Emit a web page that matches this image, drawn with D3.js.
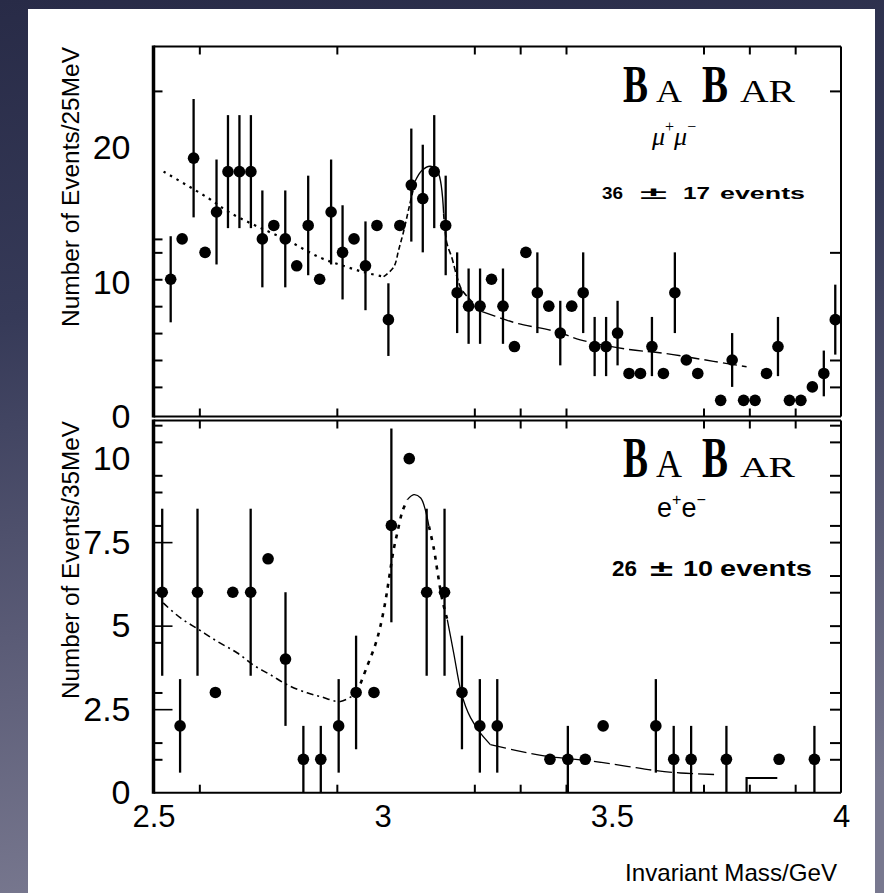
<!DOCTYPE html>
<html>
<head>
<meta charset="utf-8">
<script src="https://cdn.jsdelivr.net/npm/d3@7/dist/d3.min.js"></script>
<style>
  html, body { margin: 0; padding: 0; background: #2a2d48; }
  svg { display: block; }
</style>
</head>
<body>
<svg id="chart" width="884" height="893"></svg>
<script>
// ---- μ+μ− channel, 25 MeV bins ----
const massMuMu = [2.5375, 2.5625, 2.5875, 2.6125, 2.6375, 2.6625, 2.6875, 2.7125, 2.7375, 2.7625,
  2.7875, 2.8125, 2.8375, 2.8625, 2.8875, 2.9125, 2.9375, 2.9625, 2.9875, 3.0125,
  3.0375, 3.0625, 3.0875, 3.1125, 3.1375, 3.1625, 3.1875, 3.2125, 3.2375, 3.2625,
  3.2875, 3.3125, 3.3375, 3.3625, 3.3875, 3.4125, 3.4375, 3.4625, 3.4875, 3.5125,
  3.5375, 3.5625, 3.5875, 3.6125, 3.6375, 3.6625, 3.6875, 3.7375, 3.7625, 3.7875,
  3.8125, 3.8375, 3.8625, 3.8875, 3.9125, 3.9375, 3.9625, 3.9875];
const countsMuMu = [10, 13, 19, 12, 15, 18, 18, 18, 13, 14,
  13, 11, 14, 10, 15, 12, 13, 11, 14, 7,
  14, 17, 16, 18, 14, 9, 8, 8, 10, 8,
  5, 12, 9, 8, 6, 8, 9, 5, 5, 6,
  3, 3, 5, 3, 9, 4, 3, 1, 4, 1,
  1, 3, 5, 1, 1, 2, 3, 7];
const errMuMu = [3.2, 0, 4.4, 0, 3.9, 4.2, 4.2, 4.2, 3.6, 0,
  3.6, 0, 3.7, 0, 3.9, 3.5, 0, 3.3, 0, 2.7,
  0, 4.2, 4.0, 4.2, 3.7, 3.0, 2.8, 2.8, 0, 2.8,
  0, 0, 3.0, 0, 2.4, 0, 3.0, 2.2, 2.2, 2.4,
  0, 0, 2.2, 0, 3.0, 0, 0, 0, 2.0, 0,
  0, 0, 2.2, 0, 0, 0, 1.7, 2.6];
const fitMuMuMass = [2.522, 2.621, 2.664, 2.722, 2.792, 2.864, 2.914, 2.962, 3.002, 3.024,
  3.035, 3.046, 3.058, 3.071, 3.086, 3.104, 3.120, 3.133, 3.140, 3.151,
  3.162, 3.173, 3.217, 3.267, 3.296, 3.380, 3.431, 3.533, 3.613, 3.722, 3.794];
const fitMuMuValue = [18.0, 16.0, 15.0, 14.0, 12.9, 11.6, 11.0, 10.5, 10.2, 10.9,
  12.2, 13.6, 15.4, 17.3, 18.1, 18.4, 18.0, 14.9, 12.7, 11.6,
  10.2, 9.2, 7.6, 7.0, 6.7, 6.1, 5.5, 4.8, 4.5, 3.9, 3.5];

// ---- e+e− channel, 1.5 GeV / 39 bins ----
const massEE = [2.519, 2.558, 2.596, 2.635, 2.673, 2.712, 2.750, 2.788, 2.827, 2.865,
  2.904, 2.942, 2.981, 3.019, 3.058, 3.096, 3.135, 3.173, 3.212, 3.250,
  3.365, 3.404, 3.442, 3.481, 3.596, 3.635, 3.673, 3.750, 3.865, 3.942];
const countsEE = [6, 2, 6, 3, 6, 6, 7, 4, 1, 1,
  2, 3, 3, 8, 10, 6, 6, 3, 2, 2,
  1, 1, 1, 2, 2, 1, 1, 1, 1, 1];
const errEE = [2.5, 1.4, 2.5, 0, 0, 2.5, 0, 2.0, 1.0, 1.0,
  1.4, 1.7, 0, 2.9, 0, 2.5, 2.5, 1.7, 1.4, 1.4,
  0, 1.0, 0, 0, 1.4, 1.0, 1.0, 1.0, 0, 1.0];
const fitEEMass = [2.521, 2.559, 2.599, 2.639, 2.683, 2.719, 2.755, 2.792, 2.835, 2.864,
  2.908, 2.944, 2.966, 2.984, 2.995, 3.006, 3.013, 3.024, 3.032, 3.043,
  3.054, 3.068, 3.083, 3.093, 3.101, 3.112, 3.120, 3.130, 3.141, 3.155,
  3.170, 3.181, 3.192, 3.213, 3.235, 3.290, 3.359, 3.461, 3.533, 3.591, 3.650, 3.733];
const fitEEValue = [5.68, 5.23, 4.88, 4.53, 4.18, 3.81, 3.53, 3.23, 2.99, 2.88,
  2.73, 2.99, 3.78, 4.43, 4.98, 5.73, 6.33, 7.28, 7.78, 8.42,
  8.77, 8.92, 8.82, 8.47, 7.97, 7.28, 6.58, 5.78, 5.18, 4.18,
  3.08, 2.58, 2.24, 1.79, 1.44, 1.27, 1.09, 0.94, 0.79, 0.67, 0.59, 0.54];
const stepEEMass = [3.794, 3.794, 3.861];
const stepEEValue = [0, 0.44, 0.44];

// ---- axes ----
const xTickValues = [2.6, 2.9, 3.2, 3.3, 3.4, 3.7, 3.8, 3.9];
const xLabelValues = [2.5, 3, 3.5, 4];
const xLabelText = ["2.5", "3", "3.5", "4"];
const yTicksMuMuLeft = [2, 4, 6, 8, 10, 12, 13, 24];
const yTicksMuMuRight = [2, 4, 12, 24];
const yLabelsMuMu = [0, 10, 20];
const yTicksEELeft = [1, 1.5, 3, 4.5, 6, 8, 9, 9.5, 10.5, 11];
const yTicksEELeftLong = [2.5, 5, 7.5];
const yTicksEERight = [1, 1.5, 2.5, 3, 4.5, 5, 6, 6.5, 7.5, 8, 9, 9.5, 10.5, 11];
const yLabelsEE = [0, 2.5, 5, 7.5, 10];
const yLabelsEEText = ["0", "2.5", "5", "7.5", "10"];

const svg = d3.select("#chart");

// backdrop gradient and white sheet
const defs = svg.append("defs");
const grad = defs.append("linearGradient").attr("id", "bg")
  .attr("x1", 0).attr("y1", 0).attr("x2", 0.15).attr("y2", 1);
[[0, "#282b47"], [0.35, "#363a58"], [0.7, "#5a5b76"], [1, "#78788f"]].forEach(([o, c]) =>
  grad.append("stop").attr("offset", o).attr("stop-color", c));
svg.append("rect").attr("width", 884).attr("height", 893).attr("fill", "url(#bg)");
svg.append("rect").attr("x", 28).attr("y", 9).attr("width", 847).attr("height", 884).attr("fill", "#ffffff");

const X0 = 153.5, X1 = 841;
const x = d3.scaleLinear().domain([2.5, 4.0]).range([X0, X1]);

const panelMu = { y0: 46.5, y1: 416.5 };
const panelEE = { y0: 420.5, y1: 792.7 };
const yMu = d3.scaleLinear().domain([-0.2, 27.3]).range([panelMu.y1, panelMu.y0]);
const yEE = d3.scaleLinear().domain([0, 11.14]).range([panelEE.y1, panelEE.y0]);

function frame(p) {
  const g = svg.append("g").attr("stroke", "#000").attr("fill", "none");
  g.append("line").attr("x1", X0).attr("x2", X1).attr("y1", p.y0).attr("y2", p.y0).attr("stroke-width", 2);
  g.append("line").attr("x1", X0).attr("x2", X1).attr("y1", p.y1).attr("y2", p.y1).attr("stroke-width", 2);
  g.append("line").attr("x1", X1).attr("x2", X1).attr("y1", p.y0).attr("y2", p.y1).attr("stroke-width", 2);
  g.append("line").attr("x1", X0).attr("x2", X0).attr("y1", p.y0 - 1).attr("y2", p.y1 + 1).attr("stroke-width", 3.5);
}

function tickAxis(axis, tx, ty, width) {
  const g = svg.append("g").attr("transform", `translate(${tx},${ty})`).call(axis);
  g.select(".domain").remove();
  g.selectAll(".tick line").attr("stroke", "#000").attr("stroke-width", width || 2);
  return g;
}

function panelTicks(p, yScale, leftTicks, rightTicks) {
  tickAxis(d3.axisBottom(x).tickValues(xTickValues).tickSize(-8).tickFormat(""), 0, p.y1);
  tickAxis(d3.axisTop(x).tickValues(xTickValues).tickSize(-8).tickFormat(""), 0, p.y0);
  tickAxis(d3.axisLeft(yScale).tickValues(leftTicks).tickSize(-9).tickFormat(""), X0, 0);
  tickAxis(d3.axisRight(yScale).tickValues(rightTicks).tickSize(-11).tickFormat(""), X1, 0);
}

frame(panelMu);
frame(panelEE);
panelTicks(panelMu, yMu, yTicksMuMuLeft, yTicksMuMuRight);
panelTicks(panelEE, yEE, yTicksEELeft, yTicksEERight);
tickAxis(d3.axisLeft(yEE).tickValues(yTicksEELeftLong).tickSize(-19).tickFormat(""), X0, 0, 1.6);

// tick labels
const numFont = "'Liberation Sans', Arial, sans-serif";
function styleLabels(g, size) {
  g.selectAll("text").attr("font-family", numFont).attr("font-size", size).attr("fill", "#000");
}
styleLabels(tickAxis(d3.axisLeft(yMu).tickValues(yLabelsMuMu).tickSize(0).tickPadding(23).tickFormat(d3.format("d")), X0, 3), 34);
styleLabels(tickAxis(d3.axisLeft(yEE).tickValues(yLabelsEE).tickSize(0).tickPadding(23)
  .tickFormat((d, i) => yLabelsEEText[i]), X0, 0), 34);
styleLabels(tickAxis(d3.axisBottom(x).tickValues(xLabelValues).tickSize(0).tickPadding(12)
  .tickFormat((d, i) => xLabelText[i]), 0, panelEE.y1), 31);

// axis titles
svg.append("text").attr("transform", "translate(71,187) rotate(-90)")
  .attr("text-anchor", "middle").attr("dominant-baseline", "central")
  .attr("font-family", numFont).attr("font-size", 23)
  .attr("textLength", 280).attr("lengthAdjust", "spacingAndGlyphs")
  .text("Number of Events/25MeV");
svg.append("text").attr("transform", "translate(71,560) rotate(-90)")
  .attr("text-anchor", "middle").attr("dominant-baseline", "central")
  .attr("font-family", numFont).attr("font-size", 23)
  .attr("textLength", 278).attr("lengthAdjust", "spacingAndGlyphs")
  .text("Number of Events/35MeV");
svg.append("text").attr("x", 625).attr("y", 881)
  .attr("font-family", numFont).attr("font-size", 24)
  .attr("textLength", 212).attr("lengthAdjust", "spacingAndGlyphs")
  .text("Invariant Mass/GeV");

// fit curves, drawn piecewise in the styles of the original figure
function drawFit(massArr, valArr, yScale, pieces) {
  const line = d3.line().x(d => x(d[0])).y(d => yScale(d[1])).curve(d3.curveCatmullRom.alpha(0.5));
  const pts = massArr.map((m, i) => [m, valArr[i]]);
  pieces.forEach(pc => {
    const seg = pts.filter(d => d[0] >= pc.lo - 1e-9 && d[0] <= pc.hi + 1e-9);
    svg.append("path").attr("d", line(seg)).attr("fill", "none").attr("stroke", "#000")
      .attr("stroke-width", pc.w).attr("stroke-dasharray", pc.dash || null);
  });
}
drawFit(fitMuMuMass, fitMuMuValue, yMu, [
  { lo: 2.5, hi: 3.002, w: 2.2, dash: "2.5,5" },
  { lo: 3.002, hi: 3.071, w: 1.6, dash: "5,3" },
  { lo: 3.071, hi: 3.133, w: 1.4 },
  { lo: 3.133, hi: 3.217, w: 1.6, dash: "6,3" },
  { lo: 3.217, hi: 3.8, w: 1.4, dash: "14,5" }
]);
drawFit(fitEEMass, fitEEValue, yEE, [
  { lo: 2.5, hi: 2.944, w: 1.6, dash: "7,4,2,4" },
  { lo: 2.944, hi: 3.054, w: 2.6, dash: "4,6" },
  { lo: 3.054, hi: 3.101, w: 1.3 },
  { lo: 3.101, hi: 3.141, w: 2.6, dash: "4,6" },
  { lo: 3.141, hi: 3.235, w: 1.3 },
  { lo: 3.235, hi: 3.74, w: 1.3, dash: "16,5" }
]);
svg.append("path")
  .attr("d", d3.line().x((d, i) => x(stepEEMass[i])).y((d, i) => yEE(stepEEValue[i]))(stepEEMass))
  .attr("fill", "none").attr("stroke", "#000").attr("stroke-width", 2.2);

// data points with error bars
function drawPoints(massArr, counts, errs, yScale) {
  const g = svg.append("g");
  const pts = massArr.map((m, i) => ({ m, n: counts[i], e: errs[i] }));
  g.selectAll("line.err").data(pts.filter(d => d.e > 0)).join("line").attr("class", "err")
    .attr("x1", d => x(d.m)).attr("x2", d => x(d.m))
    .attr("y1", d => yScale(d.n + d.e)).attr("y2", d => yScale(Math.max(0, d.n - d.e)))
    .attr("stroke", "#000").attr("stroke-width", 2.3);
  g.selectAll("circle").data(pts).join("circle")
    .attr("cx", d => x(d.m)).attr("cy", d => yScale(d.n)).attr("r", 5.8).attr("fill", "#000");
}
drawPoints(massMuMu, countsMuMu, errMuMu, yMu);
drawPoints(massEE, countsEE, errEE, yEE);

// experiment logo: each letter group squeezed horizontally to its slot width
const serif = "'Liberation Serif', 'Times New Roman', serif";
function logo(by, big, small, mid) {
  const parts = [
    { t: "B", x: 623, w: 25, s: big, bold: true },
    { t: "A", x: 656, w: 26, s: mid, bold: false },
    { t: "B", x: 702, w: 26, s: big, bold: true },
    { t: "AR", x: 740, w: 55, s: small, bold: false }
  ];
  parts.forEach(p => {
    const g = svg.append("g");
    const t = g.append("text").attr("x", 0).attr("y", 0)
      .attr("font-family", serif).attr("font-size", p.s)
      .attr("font-weight", p.bold ? "bold" : "normal").attr("fill", "#000").text(p.t);
    const len = t.node().getComputedTextLength() || p.w;
    g.attr("transform", `translate(${p.x},${by}) scale(${p.w / len},1)`);
  });
}
logo(102, 52, 32, 32);
logo(477, 56, 30, 40);

const mu = svg.append("text").attr("x", 652).attr("y", 145)
  .attr("font-family", serif).attr("font-style", "italic").attr("font-size", 26);
mu.append("tspan").text("μ");
mu.append("tspan").attr("dy", -13).attr("font-size", 16).attr("font-style", "normal").text("+");
mu.append("tspan").attr("dy", 13).text("μ");
mu.append("tspan").attr("dy", -13).attr("font-size", 16).attr("font-style", "normal").text("−");

const ee = svg.append("text").attr("x", 657).attr("y", 517)
  .attr("font-family", numFont).attr("font-size", 27);
ee.append("tspan").text("e");
ee.append("tspan").attr("dy", -12).attr("font-size", 16).text("+");
ee.append("tspan").attr("dy", 12).text("e");
ee.append("tspan").attr("dy", -12).attr("font-size", 16).text("−");

// event yields, words spread as in the original annotation
function yieldText(y, size, pieces) {
  const t = svg.append("text").attr("y", y).attr("font-family", numFont)
    .attr("font-size", size).attr("font-weight", "bold");
  pieces.forEach(p => t.append("tspan").attr("x", p[0]).attr("textLength", p[2])
    .attr("lengthAdjust", "spacingAndGlyphs").text(p[1]));
}
yieldText(199, 17, [[602, "36", 21], [640, "±", 27], [683, "17", 27], [720, "events", 85]]);
yieldText(576, 22, [[612, "26", 25], [650, "±", 23], [683, "10", 30], [720, "events", 92]]);
</script>
</body>
</html>
